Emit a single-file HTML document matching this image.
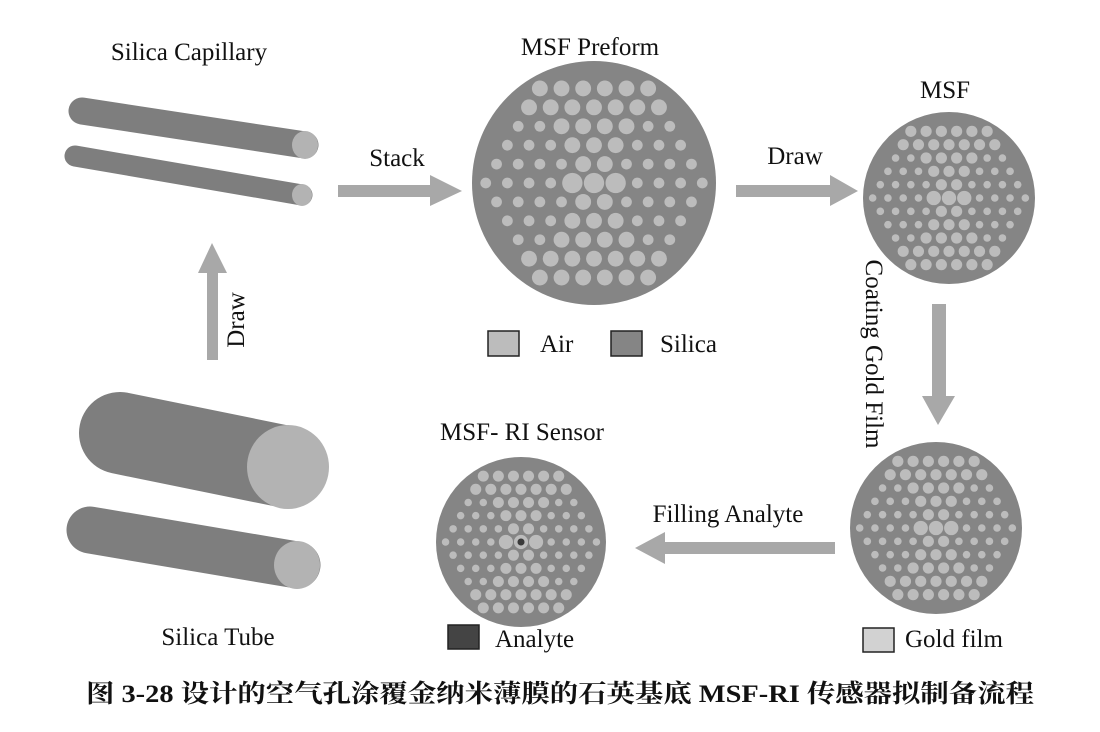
<!DOCTYPE html>
<html><head><meta charset="utf-8"><style>
html,body{margin:0;padding:0;background:#fff}
svg{display:block}
text{font-family:"Liberation Serif",serif;fill:#111}
</style></head><body>
<svg id="s" width="1100" height="732" viewBox="0 0 1100 732" xmlns="http://www.w3.org/2000/svg">
<rect width="1100" height="732" fill="#fff"/>
<line x1="82" y1="111" x2="305" y2="145" stroke="#7e7e7e" stroke-width="27" stroke-linecap="round"/>
<ellipse cx="305" cy="145" rx="13" ry="14" fill="#b3b3b3"/>
<line x1="75" y1="156" x2="302" y2="195" stroke="#7e7e7e" stroke-width="21" stroke-linecap="round"/>
<ellipse cx="302" cy="195" rx="10" ry="11" fill="#b3b3b3"/>
<line x1="120" y1="433" x2="287" y2="467" stroke="#7e7e7e" stroke-width="82" stroke-linecap="round"/>
<ellipse cx="288" cy="467" rx="41" ry="42" fill="#b3b3b3"/>
<line x1="90" y1="530" x2="297" y2="565" stroke="#7e7e7e" stroke-width="47" stroke-linecap="round"/>
<ellipse cx="297" cy="565" rx="23" ry="24" fill="#b3b3b3"/>
<g fill="#a8a8a8">
<polygon points="338,185 430,185 430,175 462,191 430,206 430,197 338,197"/>
<polygon points="736,185 830,185 830,175 858,191 830,206 830,197 736,197"/>
<polygon points="207,360 207,273 198,273 212,243 227,273 218,273 218,360"/>
<polygon points="932,304 946,304 946,396 955,396 938,425 922,396 932,396"/>
<polygon points="835,542 665,542 665,532 635,548 665,564 665,554 835,554"/>
</g>
<g id="fibers"></g>
<g font-size="25">
<text x="189" y="60" text-anchor="middle">Silica Capillary</text>
<text x="590" y="55" text-anchor="middle">MSF Preform</text>
<text x="945" y="98" text-anchor="middle">MSF</text>
<text x="397" y="166" text-anchor="middle">Stack</text>
<text x="795" y="164" text-anchor="middle">Draw</text>
<text x="728" y="522" text-anchor="middle">Filling Analyte</text>
<text x="522" y="440" text-anchor="middle">MSF- RI Sensor</text>
<text x="218" y="645" text-anchor="middle">Silica Tube</text>
<text transform="translate(244,320) rotate(-90)" text-anchor="middle">Draw</text>
<text transform="translate(866,354) rotate(90)" text-anchor="middle">Coating Gold Film</text>
<text x="540" y="352">Air</text>
<text x="660" y="352">Silica</text>
<text x="495" y="647">Analyte</text>
<text x="905" y="647">Gold film</text>
</g>
<rect x="488" y="331" width="31" height="25" fill="#bcbcbc" stroke="#222" stroke-width="1.5"/>
<rect x="611" y="331" width="31" height="25" fill="#858585" stroke="#222" stroke-width="1.5"/>
<rect x="448" y="625" width="31" height="24" fill="#444" stroke="#222" stroke-width="1.5"/>
<rect x="863" y="628" width="31" height="24" fill="#d2d2d2" stroke="#222" stroke-width="1.5"/>
<text x="86" y="702" textLength="948" lengthAdjust="spacingAndGlyphs" font-size="25" font-weight="bold" style="font-family:'Liberation Serif','Noto Serif CJK SC',serif">图 3-28 设计的空气孔涂覆金纳米薄膜的石英基底 MSF-RI 传感器拟制备流程</text>
</svg>
<script>
(function(){
var g=document.getElementById('fibers'),NS='http://www.w3.org/2000/svg';
function c(x,y,r,f){var e=document.createElementNS(NS,'circle');e.setAttribute('cx',x);e.setAttribute('cy',y);e.setAttribute('r',r);e.setAttribute('fill',f);g.appendChild(e);}
function fiber(cx,cy,R,mode){
 c(cx,cy,R,'#858585');
 var s=R/120,p=21.3*s,h=18.6*s;
 for(var dr=-5;dr<=5;dr++){
  var n=11-Math.abs(dr);
  for(var i=0;i<n;i++){
   var dx=(i-(n-1)/2),x=cx+dx*p,y=cy+dr*h,ad=Math.abs(dx),a=Math.abs(dr),r;
   if(dr==0&&ad<=1) r=10*s;
   else if(a>=5) r=7.8*s;
   else if(ad<=a*0.6+0.6) r=7.8*s;
   else r=5.3*s;
   var f='#bcbcbc';
   if(mode==2&&dr==0&&dx==0){c(x,y,r,'#bcbcbc');c(x,y,5*s,'#3a3a3a');continue;}
   if(mode>=1&&dr==-2&&dx==-0.5)f='#e0e0e0';
   c(x,y,r,f);
  }
 }
}
fiber(594,183,122,0);
fiber(949,198,86,0);
fiber(936,528,86,1);
fiber(521,542,85,2);
})();
</script>
</body></html>
